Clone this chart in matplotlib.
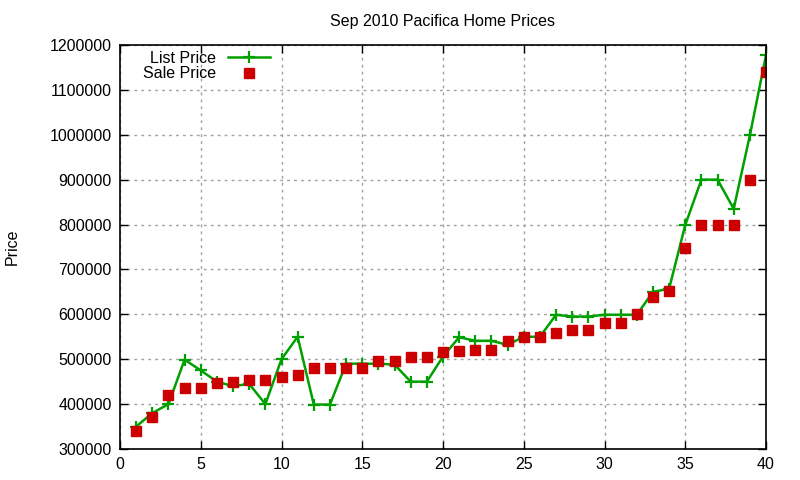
import matplotlib
matplotlib.use("Agg")
import matplotlib.pyplot as plt

plt.rcParams['font.family'] = ['Liberation Sans', 'DejaVu Sans']

idx = list(range(1, 41))
list_price = [350000, 380000, 400000, 499000, 475000, 450000, 440000, 445000, 400000, 500000,
              550000, 399000, 399000, 490000, 490000, 490000, 488000, 450000, 450000, 506000,
              549000, 541000, 541000, 532000, 550000, 550000, 599000, 595000, 595000, 599000,
              599000, 599000, 650000, 657000, 799000, 900000, 900000, 835000, 998500, 1177000]
sale_price = [341000, 371000, 420000, 436000, 436000, 446000, 450000, 454000, 454000, 460000,
              465000, 481000, 481000, 481000, 481000, 497000, 497000, 506000, 506000, 517000,
              519000, 521000, 521000, 541000, 550000, 550000, 559000, 566000, 566000, 581000,
              581000, 600000, 638000, 653000, 748000, 800000, 800000, 800000, 900000, 1139000]
x_ticks = list(range(0, 41, 5))
y_ticks = list(range(300000, 1200001, 100000))

fig = plt.figure(figsize=(8, 4.8), dpi=100)
ax = fig.add_axes([0.15, 0.0646, 0.8075, 0.8417])

ax.plot(idx, list_price, color='#00a000', lw=1.8, marker='+', ms=8, mew=1.6, label='List Price')
ax.plot(idx, sale_price, color='#cc0000', lw=0, marker='s', ms=6.5, label='Sale Price')

ax.set_xlim(0, 40)
ax.set_ylim(300000, 1200000)
ax.set_xticks(x_ticks)
ax.set_xticklabels([str(v) for v in x_ticks])
ax.set_yticks(y_ticks)
ax.set_yticklabels([str(v) for v in y_ticks])
ax.tick_params(direction='in', top=True, right=True, labelsize=11.5, length=6, width=1, pad=6)
ax.grid(True, color='#a0a0a0', linestyle=(0, (2, 3)), linewidth=1)
ax.set_axisbelow(True)
for s in ax.spines.values():
    s.set_linewidth(1.2)

ax.set_title('Sep 2010 Pacifica Home Prices', fontsize=11.5, pad=14)
ax.set_ylabel('Price', fontsize=11.5)
ax.yaxis.set_label_coords(-0.155, 0.5)

leg = ax.legend(loc='upper left', bbox_to_anchor=(0.02, 1.01), frameon=False, markerfirst=False,
                fontsize=11.5, handlelength=2.6, labelspacing=0.05, borderaxespad=0.2)
for t in leg.get_texts():
    t.set_ha('right')
leg._legend_box.align = 'right'

fig.savefig('out.png', dpi=100)
